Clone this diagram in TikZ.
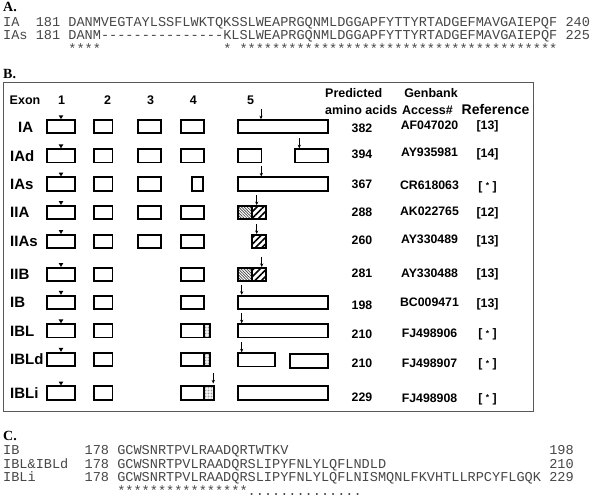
\documentclass[tikz,border=0pt]{standalone}
\usepackage{fontspec}
\setmainfont{Liberation Sans}
\newfontfamily\serifbf{Liberation Serif}
\newfontfamily\monof{Liberation Mono}
\usetikzlibrary{arrows.meta,patterns,patterns.meta,calc}
\newcommand\exonat[5][]{\node[exonbox,#1,minimum width={#4-#3-1.8}] (#2) at ({(#3+#4)/2},#5) {};}
\newcommand\mtxt[4]{\node[mono] (#1) at ({3+8.15*#2},#3) {#4};}
\newcommand\tri[1]{\fill ($(#1.north)+(-2.3,-3.8)$) -- ($(#1.north)+(2.3,-3.8)$) -- (#1.north) -- cycle;}
\newcommand\pinarrow[3]{\coordinate (#1t) at (#2,0);
  \coordinate (#1s) at ($(#1t |- #3.north)+(0,-10)$);
  \draw[arr] (#1s) -- (#1t |- #3.north);}
\newcommand\smallstar{[\hspace{0.28em}{\fontsize{8.5}{9}\selectfont\raisebox{1.2pt}{*}}\hspace{0.28em}]}
\begin{document}
\begin{tikzpicture}[x=1pt,y=-1pt,
  exonbox/.style={draw=black,line width=1.8pt,inner sep=0pt,minimum height=13.3pt},
  stip/.style={pattern={Lines[angle=-45,distance=2pt,line width=0.7pt]},pattern color=black!75},
  hatch/.style={pattern={Lines[angle=45,distance=4.6pt,line width=1.5pt]},pattern color=black},
  dotext/.style={pattern={Dots[distance=1.5pt,radius=0.45pt]},pattern color=black!60},
  arr/.style={-{Stealth[length=3.5pt,width=3.2pt]},line width=0.8pt},
  hdr/.style={font=\bfseries\fontsize{12.5}{14}\selectfont,inner sep=0pt,anchor=base},
  hdrw/.style={font=\bfseries\fontsize{12.5}{14}\selectfont,inner sep=0pt,anchor=base west},
  rowlab/.style={font=\bfseries\fontsize{15}{17}\selectfont,inner sep=0pt,anchor=base west},
  val/.style={font=\bfseries\fontsize{12.3}{14}\selectfont,inner sep=0pt,anchor=base},
  mono/.style={font=\monof\fontsize{13.58}{15}\selectfont,text=black!72,inner sep=0pt,anchor=base west},
  plab/.style={font=\serifbf\bfseries\fontsize{14}{16}\selectfont,inner sep=0pt,anchor=base west},
  frame/.style={draw=black!65,line width=0.9pt}]
\useasboundingbox (0,0) rectangle (601,503);
\fill[white] (0,0) rectangle (601,503);

% ---------- Panel A ----------
\node[plab] (labA) at (3,12) {A.};
\mtxt{a1n}{0}{26.5}{IA}
\mtxt{a1p}{4}{26.5}{181}
\mtxt{a1s}{8}{26.5}{DANMVEGTAYLSSFLWKTQKSSLWEAPRGQNMLDGGAPFYTTYRTADGEFMAVGAIEPQF}
\mtxt{a1e}{69}{26.5}{240}
\mtxt{a2n}{0}{40}{IAs}
\mtxt{a2p}{4}{40}{181}
\mtxt{a2s}{8}{40}{DANM}
\foreach \k in {0,...,14}{\node[mono] (ad\k) at ({3+8.15*(12+\k)},40) {-};}
\mtxt{a2t}{27}{40}{KLSLWEAPRGQNMLDGGAPFYTTYRTADGEFMAVGAIEPQF}
\mtxt{a2e}{69}{40}{225}
\mtxt{a3a}{8}{53.5}{****}
\mtxt{a3b}{27}{53.5}{*}
\mtxt{a3c}{29}{53.5}{***************************************}

% ---------- Panel B ----------
\node[plab] (labB) at (3,78.5) {B.};
\draw[frame] (3.5,82) rectangle (533,411);
\node[hdr] (hExon) at (25,104.5) {Exon};
\node[hdr] (h1) at (61.7,104.5) {1};
\node[hdr] (h2) at (107.7,104.5) {2};
\node[hdr] (h3) at (150.7,104.5) {3};
\node[hdr] (h4) at (193.3,104.5) {4};
\node[hdr] (h5) at (250.7,104.5) {5};
\node[hdrw] (hPred) at (325,97) {Predicted};
\node[hdrw] (hAmino) at (325,114.5) {amino acids};
\node[hdr] (hGen) at (431,97) {Genbank};
\node[hdr] (hAcc) at (427.5,114.5) {Access\#};
\node[font=\bfseries\fontsize{14}{16}\selectfont,inner sep=0pt,anchor=base] (hRef) at (495.5,114.5) {Reference};

% row IA
\node[rowlab] (rIA) at (18,132) {IA};
\exonat{aA1}{46}{76}{126.7}\tri{aA1}
\exonat{aA2}{93.3}{113.3}{126.7}
\exonat{aA3}{136.7}{161.7}{126.7}
\exonat{aA4}{180}{205}{126.7}
\exonat{aA5}{237}{329}{126.7}
\pinarrow{pA}{261}{aA5}
\node[val] (nA) at (362,132.7) {382};
\node[val] (gA) at (429.5,129.4) {AF047020};
\node[val] (fA) at (487.5,129.4) {[13]};

% row IAd
\node[rowlab] (rAd) at (10,161.1) {IAd};
\exonat{bA1}{46}{76}{155.8}\tri{bA1}
\exonat{bA2}{93.3}{113.3}{155.8}
\exonat{bA3}{136.7}{161.7}{155.8}
\exonat{bA4}{180}{205}{155.8}
\exonat{bA5}{237}{262.3}{155.8}
\exonat{bA6}{294}{329}{155.8}
\pinarrow{pB}{299.3}{bA6}
\node[val] (nB) at (362,158.7) {394};
\node[val] (gB) at (429.5,156.7) {AY935981};
\node[val] (fB) at (487.5,157.7) {[14]};

% row IAs
\node[rowlab] (rAs) at (10,189.3) {IAs};
\exonat{cA1}{46}{76}{184}\tri{cA1}
\exonat{cA2}{93.3}{113.3}{184}
\exonat{cA3}{136.7}{161.7}{184}
\exonat{cA4}{191}{204}{184}
\exonat{cA5}{237}{329}{184}
\pinarrow{pC}{261.3}{cA5}
\node[val] (nC) at (362,188.4) {367};
\node[val] (gC) at (429.5,189.4) {CR618063};
\node[val] (fC) at (487.5,190) {\smallstar};

% row IIA
\node[rowlab] (rIIA) at (10,217.8) {IIA};
\exonat{dA1}{46}{76}{212.5}\tri{dA1}
\exonat{dA2}{93.3}{113.3}{212.5}
\exonat{dA3}{136.7}{161.7}{212.5}
\exonat{dA4}{180}{205}{212.5}
\exonat[stip]{dA5}{237.3}{252.9}{212.5}
\exonat[hatch]{dA6}{251.1}{266.7}{212.5}
\pinarrow{pD}{256.7}{dA6}
\node[val] (nD) at (362,216.7) {288};
\node[val] (gD) at (429.5,215.4) {AK022765};
\node[val] (fD) at (487.5,216.1) {[12]};

% row IIAs
\node[rowlab] (rIIAs) at (10,246.8) {IIAs};
\exonat{eA1}{46}{76}{241.5}\tri{eA1}
\exonat{eA2}{93.3}{113.3}{241.5}
\exonat{eA3}{136.7}{161.7}{241.5}
\exonat{eA4}{180}{205}{241.5}
\exonat[hatch]{eA6}{251.1}{266.7}{241.5}
\pinarrow{pE}{256.7}{eA6}
\node[val] (nE) at (362,244.4) {260};
\node[val] (gE) at (429.5,243.7) {AY330489};
\node[val] (fE) at (487.5,244.4) {[13]};

% row IIB
\node[rowlab] (rIIB) at (10,279.8) {IIB};
\exonat{fA1}{46}{76}{274.5}\tri{fA1}
\exonat{fA2}{93.3}{113.3}{274.5}
\exonat{fA4}{180}{205}{274.5}
\exonat[stip]{fA5}{237.3}{252.9}{274.5}
\exonat[hatch]{fA6}{251.1}{266.7}{274.5}
\pinarrow{pF}{261.7}{fA6}
\node[val] (nF) at (362,277.1) {281};
\node[val] (gF) at (429.5,277.1) {AY330488};
\node[val] (fF) at (487.5,277.1) {[13]};

% row IB
\node[rowlab] (rIB) at (10,307.6) {IB};
\exonat{gA1}{46}{76}{302.3}\tri{gA1}
\exonat{gA2}{93.3}{113.3}{302.3}
\exonat{gA4}{180}{205}{302.3}
\exonat{gA5}{237}{329}{302.3}
\pinarrow{pG}{241.7}{gA5}
\node[val] (nG) at (362,309.4) {198};
\node[val] (gG) at (429.5,306.1) {BC009471};
\node[val] (fG) at (487.5,307.1) {[13]};

% row IBL
\node[rowlab] (rIBL) at (10,336.1) {IBL};
\exonat{hA1}{46}{76}{330.8}\tri{hA1}
\exonat{hA2}{93.3}{113.3}{330.8}
\exonat[dotext]{hAx}{203.2}{210.5}{330.8}
\exonat{hA4}{180}{205}{330.8}
\exonat{hA5}{237}{328.5}{330.8}
\pinarrow{pH}{241.7}{hA5}
\node[val] (nH) at (362,338.4) {210};
\node[val] (gH) at (429.5,337.1) {FJ498906};
\node[val] (fH) at (487.5,337.7) {\smallstar};

% row IBLd
\node[rowlab] (rIBLd) at (10,364.6) {IBLd};
\exonat{iA1}{46}{76}{359.3}\tri{iA1}
\exonat{iA2}{93.3}{113.3}{359.3}
\exonat[dotext]{iAx}{203.2}{210.5}{359.3}
\exonat{iA4}{180}{205}{359.3}
\exonat{iA5}{237}{276}{359.8}
\exonat{iA6}{289.3}{328.5}{361}
\pinarrow{pI}{241.7}{iA5}
\node[val] (nI) at (362,367.1) {210};
\node[val] (gI) at (429.5,367.7) {FJ498907};
\node[val] (fI) at (487.5,367.7) {\smallstar};

% row IBLi
\node[rowlab] (rIBLi) at (10,398.3) {IBLi};
\exonat{jA1}{46}{76}{393}\tri{jA1}
\exonat{jA2}{93.3}{113.3}{393}
\exonat[dotext]{jAx}{203.2}{214.5}{393}
\exonat{jA4}{180}{205}{393}
\exonat{jA5}{237}{328.5}{393}
\coordinate (pJt) at (213.3,0);
\coordinate (pJs) at ($(pJt |- jAx.north)+(0,-12)$);
\draw[arr] (pJs) -- ($(pJt |- jAx.north)+(0,-2)$);
\node[val] (nJ) at (362,401.1) {229};
\node[val] (gJ) at (429.5,402.1) {FJ498908};
\node[val] (fJ) at (487.5,402.1) {\smallstar};

% ---------- Panel C ----------
\node[plab] (labC) at (3,440) {C.};
\mtxt{c1n}{0}{454.5}{IB}
\mtxt{c1p}{10}{454.5}{178}
\mtxt{c1s}{14}{454.5}{GCWSNRTPVLRAADQRTWTKV}
\mtxt{c1e}{67}{454.5}{198}
\mtxt{c2n}{0}{468.2}{IBL\&IBLd}
\mtxt{c2p}{10}{468.2}{178}
\mtxt{c2s}{14}{468.2}{GCWSNRTPVLRAADQRSLIPYFNLYLQFLNDLD}
\mtxt{c2e}{67}{468.2}{210}
\mtxt{c3n}{0}{481.9}{IBLi}
\mtxt{c3p}{10}{481.9}{178}
\mtxt{c3s}{14}{481.9}{GCWSNRTPVLRAADQRSLIPYFNLYLQFLNISMQNLFKVHTLLRPCYFLGQK}
\mtxt{c3e}{67}{481.9}{229}
\mtxt{c4a}{14}{495.6}{****************}
\mtxt{c4b}{30}{495.6}{..............}
\end{tikzpicture}
\end{document}
